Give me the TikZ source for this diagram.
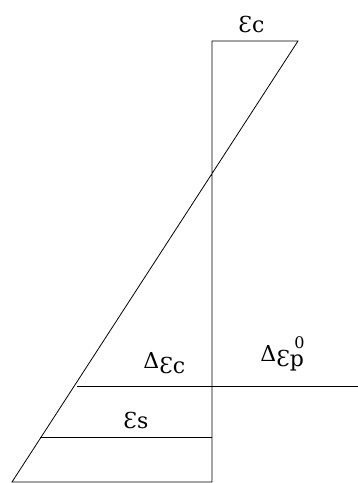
\documentclass[tikz,border=0pt]{standalone}
\usepackage{fontspec}
\setmainfont{DejaVu Serif}
\newcommand{\veps}{Ɛ}
\newcommand{\low}[1]{\raisebox{-5pt}{#1}}
\begin{document}
\begin{tikzpicture}[x=1pt,y=-1pt,line width=0.8pt,
  lbl/.style={inner sep=0pt,anchor=base west,font=\fontsize{22}{26}\selectfont}]
\useasboundingbox (0,0) rectangle (358,483);
\coordinate (A) at (212,41);
\coordinate (B) at (298,41);
\coordinate (C) at (212,482);
\coordinate (D) at (12,482);
\coordinate (E) at (77,386);
\coordinate (F) at (358,386);
\coordinate (G) at (40,437);
\coordinate (H) at (212,437);
\draw (C) -- (A) -- (B) -- (D) -- (C);
\draw (E) -- (F);
\draw (G) -- (H);
\node[lbl] (ec) at (238,32) {\veps c};
\node[lbl] (dec) at (143,368) {Δ\low{\veps c}};
\node[lbl] (dep) at (260,361) {Δ\low{\veps p}};
\node[inner sep=0pt,anchor=base west,font=\fontsize{16}{18}\selectfont] (dep0) at (294,348) {0};
\node[lbl] (es) at (123,428) {\veps s};
\end{tikzpicture}
\end{document}
